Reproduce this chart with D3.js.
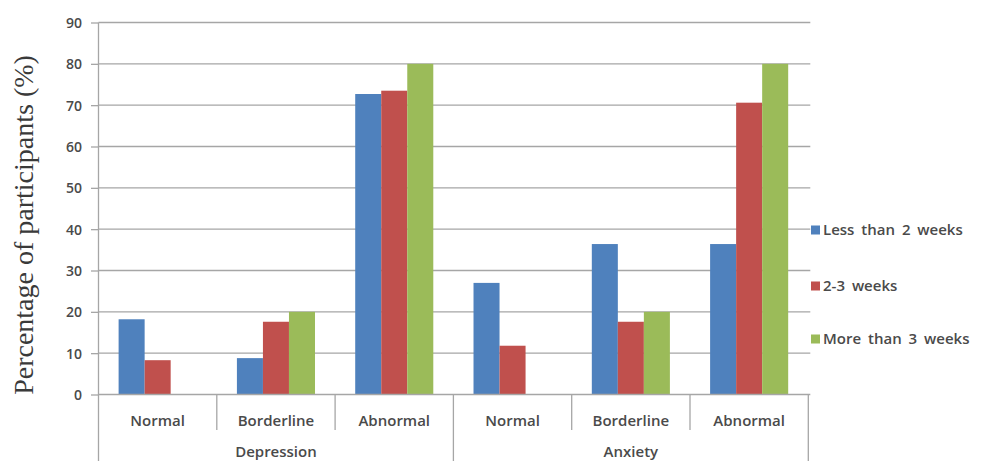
<!DOCTYPE html>
<html>
<head>
<meta charset="utf-8">
<script src="https://cdn.jsdelivr.net/npm/d3@7"></script>
<style>
body { margin: 0; background: #fff; }
.tick-label, .cat-label, .group-label, .legend-label { font-family: "Open Sans", sans-serif; font-weight: 600; fill: #4a4a4a; }
</style>
</head>
<body>
<script>
var width = 983, height = 461;

var groups = ["Depression", "Anxiety"];
var levels = ["Normal", "Borderline", "Abnormal"];
var seriesNames = ["Less than 2 weeks", "2-3 weeks", "More than 3 weeks"];
var lessThan2 = [18.2, 8.8, 72.7, 27.0, 36.4, 36.4];
var weeks2to3 = [8.3, 17.6, 73.5, 11.8, 17.6, 70.6];
var moreThan3 = [0, 20, 80, 0, 20, 80];
var yTicks = [0, 10, 20, 30, 40, 50, 60, 70, 80, 90];
var colors = ["#4f81bd", "#c0504d", "#9bbb59"];

var categories = [];
groups.forEach(function(g){
	levels.forEach(function(l){ categories.push({group: g, level: l, key: g + "|" + l}); });
});
var series = [lessThan2, weeks2to3, moreThan3];

// plot box (don't call it "top", that's window.top)
var plotLeft = 98.5, plotRight = 808.3, plotTop = 22.5, plotBottom = 394.5;

var svg = d3.select("body").append("svg")
	.attr("width", width).attr("height", height);

var x0 = d3.scaleBand().domain(categories.map(function(d){ return d.key; }))
	.range([plotLeft, plotRight]).padding(0);
var gap = x0.bandwidth() * 0.17;
var x1 = d3.scaleBand().domain(seriesNames).range([gap, x0.bandwidth() - gap]).padding(0);
var y = d3.scaleLinear().domain([0, 90]).range([plotBottom, plotTop]);

var gridColor = "#a6a6a6";

// gridlines + y ticks
var yAxis = svg.append("g")
	.attr("transform", "translate(" + plotLeft + ",0)")
	.call(d3.axisLeft(y).tickValues(yTicks).tickSize(7.5).tickPadding(9));
yAxis.select(".domain").remove();
yAxis.selectAll(".tick line").attr("stroke", gridColor).attr("stroke-width", 1.3);
yAxis.selectAll(".tick text").attr("class", "tick-label").attr("font-size", 14).attr("dy", "0.36em");

svg.append("g").selectAll("line.grid")
	.data(yTicks.filter(function(t){ return t > 0; }))
	.enter().append("line")
	.attr("x1", plotLeft).attr("x2", plotRight + 2)
	.attr("y1", function(d){ return y(d); }).attr("y2", function(d){ return y(d); })
	.attr("stroke", gridColor).attr("stroke-width", 1.3);

// bars
var barG = svg.append("g");
series.forEach(function(vals, si){
	barG.selectAll(".bar-" + si)
		.data(vals)
		.enter().append("rect")
		.attr("x", function(d, i){ return x0(categories[i].key) + x1(seriesNames[si]); })
		.attr("width", x1.bandwidth())
		.attr("y", function(d){ return y(d); })
		.attr("height", function(d){ return y(0) - y(d); })
		.attr("fill", colors[si]);
});

// axis frame
var frame = svg.append("g").attr("stroke", gridColor).attr("stroke-width", 1.3);
frame.append("line").attr("x1", plotLeft).attr("x2", plotLeft).attr("y1", plotTop).attr("y2", height);
frame.append("line").attr("x1", plotLeft).attr("x2", plotRight + 2).attr("y1", plotBottom).attr("y2", plotBottom);
categories.forEach(function(c, i){
	var xe = x0(c.key) + x0.bandwidth();
	var last = (i + 1) % levels.length == 0;
	frame.append("line").attr("x1", xe).attr("x2", xe)
		.attr("y1", plotBottom).attr("y2", last ? height : 430);
});

// category labels
svg.append("g").selectAll("text")
	.data(categories)
	.enter().append("text")
	.attr("class", "cat-label")
	.attr("x", function(d){ return x0(d.key) + x0.bandwidth() / 2; })
	.attr("y", 425.5)
	.attr("text-anchor", "middle")
	.attr("font-size", 15)
	.text(function(d){ return d.level; });

svg.append("g").selectAll("text")
	.data(groups)
	.enter().append("text")
	.attr("class", "group-label")
	.attr("x", function(g){ return x0(g + "|" + levels[1]) + x0.bandwidth() / 2; })
	.attr("y", 457)
	.attr("text-anchor", "middle")
	.attr("font-size", 15)
	.text(function(g){ return g; });

// y title
svg.append("text")
	.attr("transform", "translate(33,225) rotate(-90)")
	.attr("text-anchor", "middle")
	.attr("font-family", "'Liberation Serif', 'Times New Roman', serif")
	.attr("font-size", 28)
	.attr("fill", "#3a3a3a")
	.text("Percentage of participants (%)");

// legend
var legendY = [230, 286, 339];
var legend = svg.append("g").selectAll("g")
	.data(seriesNames)
	.enter().append("g")
	.attr("transform", function(d, i){ return "translate(811," + legendY[i] + ")"; });
legend.append("rect")
	.attr("x", 0).attr("y", -4.5).attr("width", 9).attr("height", 9)
	.attr("fill", function(d, i){ return colors[i]; });
legend.append("text")
	.attr("class", "legend-label")
	.attr("x", 12).attr("y", 0).attr("dy", "0.36em")
	.attr("font-size", 15)
	.attr("word-spacing", 3)
	.text(function(d){ return d; });
</script>
</body>
</html>
